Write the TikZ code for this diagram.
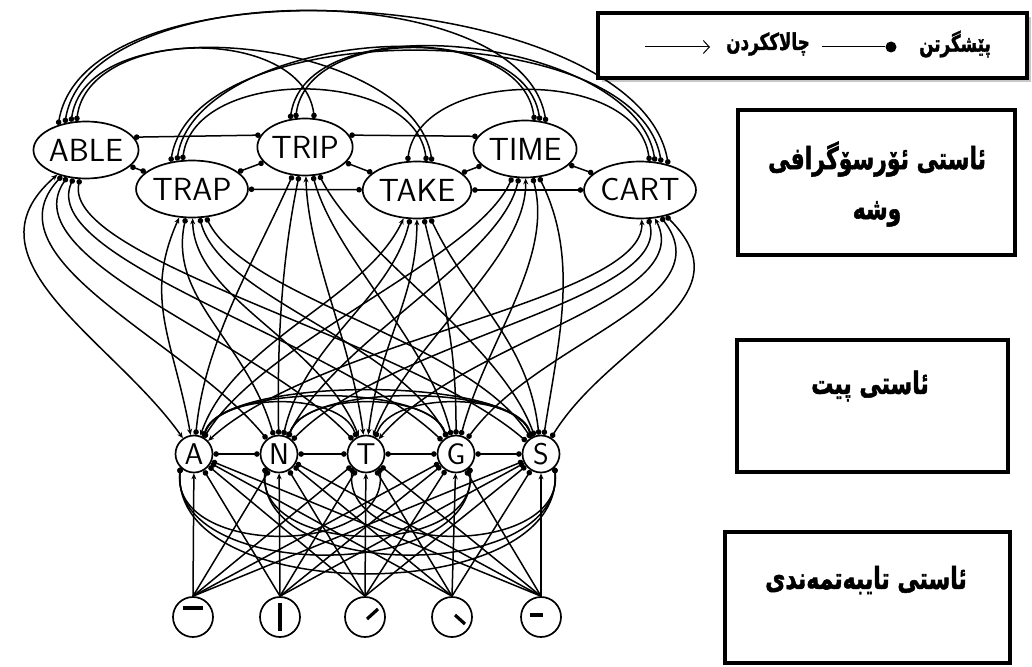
\documentclass[tikz,border=0pt]{standalone}
\usepackage{fontspec}
\usetikzlibrary{arrows.meta,shapes.geometric,shadows}
\newfontfamily\arabicfont[Script=Arabic,FakeBold=1.8]{DejaVu Sans Bold}
\TeXXeTstate=1
\newcommand{\tallR}[1]{\scalebox{0.88}[1.22]{\beginR #1\endR}}
\begin{document}
\begin{tikzpicture}[x=1pt,y=-1pt,
  wordnode/.style={ellipse,draw,line width=1.7pt,minimum width=94pt,minimum height=57pt,inner sep=0pt,font=\sffamily\fontsize{32}{32}\selectfont},
  letnode/.style={circle,draw,line width=1.7pt,minimum size=37pt,inner sep=0pt,font=\sffamily\fontsize{30}{30}\selectfont},
  featnode/.style={circle,draw,line width=1.7pt,minimum size=40pt,inner sep=0pt},
  featbar/.style={line width=3.2pt},
  link/.style={line width=1.5pt},
  inh/.style={link,{Circle[length=5.5pt]}-{Circle[length=5.5pt]}},
  exc/.style={link,{Stealth[length=6pt,width=5pt]}-{Stealth[length=6pt,width=5pt]}},
  finh/.style={link,-{Circle[length=5.5pt]}},
  fexc/.style={link,-{Stealth[length=6pt,width=5pt]}},
  levelbox/.style={rectangle,draw,line width=4.5pt,inner sep=0pt},
  leveltext/.style={font=\arabicfont\fontsize{25}{50}\selectfont,align=center,inner sep=0pt},
  legtext/.style={font=\arabicfont\fontsize{19}{19}\selectfont,inner sep=0pt},
]
\useasboundingbox (0,0) rectangle (1032,666);
\fill[white] (0,0) rectangle (1032,666);

% ---------- legend ----------
\node[levelbox,minimum width=429pt,minimum height=65pt,fill=white,
      drop shadow={shadow xshift=4pt,shadow yshift=-4pt,fill=gray!60,opacity=0.7}] (legend) at (812.5,45.5) {};
\coordinate (arrA) at (645,47);
\coordinate (arrB) at (710,47);
\draw[line width=1pt,-{Straight Barb[length=6pt,width=13pt]}] (arrA) -- (arrB);
\node[legtext] (actT) at (768,44) {\tallR{چالاککردن}};
\coordinate (inhA) at (822,47);
\node[circle,fill,inner sep=0pt,minimum size=11pt] (inhDot) at (891,47) {};
\draw[line width=1pt] (inhA) -- (inhDot);
\node[legtext] (inhT) at (955,44) {\tallR{پێشگرتن}};

% ---------- level boxes ----------
\node[levelbox,minimum width=277pt,minimum height=145pt] (lvw) at (876.5,182.5) {};
\node[leveltext] (lvwT) at (877,184) {\tallR{ئاستی ئۆرسۆگرافی}\\\tallR{وشە}};
\node[levelbox,minimum width=271pt,minimum height=132pt] (lvl) at (872.5,406) {};
\node[leveltext] (lvlT) at (870,386) {\tallR{ئاستی پیت}};
\node[levelbox,minimum width=285pt,minimum height=131pt] (lvf) at (867.5,597.5) {};
\node[leveltext] (lvfT) at (866,580) {\tallR{ئاستی تایبەتمەندی}};

% ---------- nodes ----------
\node[wordnode] (w1) at (86,150) {ABLE};
\node[wordnode] (w2) at (192,189) {TRAP};
\node[wordnode] (w3) at (305,147) {TRIP};
\node[wordnode] (w4) at (417,190) {TAKE};
\node[wordnode] (w5) at (525,149) {TIME};
\node[wordnode] (w6) at (640,190) {CART};

\node[letnode] (L1) at (194,454) {A};
\node[letnode] (L2) at (279,454) {N};
\node[letnode] (L3) at (366,454) {T};
\node[letnode] (L4) at (456,454) {G};
\node[letnode] (L5) at (541,454) {S};

\node[featnode] (F1) at (193,617) {};
\node[featnode] (F2) at (280,617) {};
\node[featnode] (F3) at (365,617) {};
\node[featnode] (F4) at (452,617) {};
\node[featnode] (F5) at (541,617) {};
\draw[featbar] ([shift={(-10,-9)}]F1.center) -- ([shift={(10,-9)}]F1.center);
\draw[featbar] ([shift={(0,-14)}]F2.center) -- ([shift={(0,14)}]F2.center);
\draw[featbar] ([shift={(2,2)}]F3.center) -- ([shift={(13,-8)}]F3.center);
\draw[featbar] ([shift={(3,-2)}]F4.center) -- ([shift={(13,7)}]F4.center);
\draw[featbar] ([shift={(-11,-2)}]F5.center) -- ([shift={(2,-2)}]F5.center);

% ---------- word-word inhibition ----------
\draw[inh] (w1) -- (w2);
\draw[inh] (w2) -- (w3);
\draw[inh] (w3) -- (w4);
\draw[inh] (w4) -- (w5);
\draw[inh] (w5) -- (w6);
\draw[inh] (w1.15) -- (w3.165);
\draw[inh] (w3.15) -- (w5.165);
\draw[inh] (w2) -- (w4);
\draw[inh] (w4) -- (w6);
\foreach \i/\j in {1/3,1/4,1/5,1/6,2/4,2/5,2/6,3/5,3/6,4/6}{
  \pgfmathtruncatemacro\d{\j-\i}
  \pgfmathsetmacro\h{40+27*\d}
  \pgfmathsetmacro\sa{88+10*\d}
  \pgfmathsetmacro\ea{92-10*\d}
  \draw[inh] (w\i.\sa) .. controls +(6*\d,-\h) and +(-6*\d,-\h) .. (w\j.\ea);
}

% ---------- word-letter ----------
\foreach \i/\wx/\wy/\ex/\bow in {1/86/150/10000/-160,2/192/189/10100/-50,3/305/147/100/-15,4/417/190/10100/15,5/525/149/100/50,6/640/190/10100/140}{
  \foreach \lx [count=\k] in {194,279,366,456,541}{
    \pgfmathtruncatemacro\bit{mod(floor(\ex/10^(5-\k)),10)}
    \pgfmathsetmacro\cax{\wx+0.3*(\lx-\wx)+\bow}
    \pgfmathsetmacro\cbx{\lx-0.15*(\lx-\wx)+0.4*\bow}
    \ifnum\bit=1 \def\st{exc}\else\def\st{inh}\fi
    \draw[\st] (w\i) .. controls (\cax,{\wy+110}) and (\cbx,340) .. (L\k);
  }
}

% ---------- letter-letter inhibition ----------
\draw[inh] (L1) -- (L2);
\draw[inh] (L2) -- (L3);
\draw[inh] (L3) -- (L4);
\draw[inh] (L4) -- (L5);
\foreach \a/\b in {1/3,1/4,1/5,2/4,2/5,3/5}{
  \pgfmathtruncatemacro\d{\b-\a}
  \pgfmathsetmacro\h{30+8*\d}
  \draw[inh] (L\a.60) .. controls +(15,-\h) and +(-15,-\h) .. (L\b.120);
  \pgfmathsetmacro\hb{40+25*\d}
  \draw[inh] (L\a.225) .. controls +(-10,\hb) and +(10,\hb) .. (L\b.-45);
}

% ---------- feature-letter ----------
\foreach \j in {1,...,5}{
  \foreach \k in {1,...,5}{
    \ifnum\j=\k \def\st{fexc}\else\def\st{finh}\fi
    \draw[\st] (F\j.north) -- (L\k);
  }
}
\end{tikzpicture}
\end{document}
